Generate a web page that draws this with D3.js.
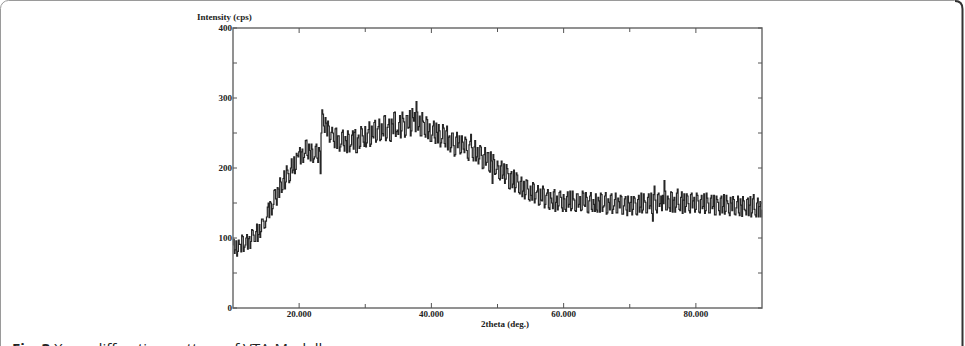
<!DOCTYPE html>
<html>
<head>
<meta charset="utf-8">
<script src="https://cdn.jsdelivr.net/npm/d3@7"></script>
<style>
  body { margin: 0; background: #fff; }
  svg { display: block; }
  .tick-label { font-family: "Liberation Serif", serif; font-weight: bold; font-size: 9px; fill: #222; }
</style>
</head>
<body>
<div id="chart"></div>
<script>
const width = 965
const height = 346
const margins = { top: 28, right: 203, bottom: 38, left: 233 }

// 2theta from 10 to 90 deg, read at 0.25 deg steps
const thetaStart = 10
const thetaStep = 0.25
const intensity = [
    90,78,96,81,91,80,102,87,100,84,102,95,111,95,109,95,119,109,127,114,
    124,144,129,150,142,168,156,172,158,180,169,196,180,197,179,200,193,216,198,218,
    223,206,227,215,239,218,234,210,227,213,231,214,229,192,283,260,272,246,260,241,
    258,238,256,228,246,230,251,232,245,222,248,231,247,227,255,222,247,231,256,237,
    259,236,255,231,260,243,268,240,259,239,263,246,275,243,262,239,270,249,280,252,
    248,275,253,271,244,275,257,282,253,272,279,295,254,274,246,267,248,273,242,263,
    238,260,243,264,236,253,236,262,235,253,226,246,229,250,217,244,229,246,222,237,
    222,241,214,233,248,215,230,210,229,213,230,199,219,204,222,196,223,178,212,192,
    210,185,203,185,206,184,199,171,192,172,197,172,190,165,181,159,181,162,182,155,
    174,154,177,156,167,147,170,153,170,148,164,143,165,150,166,138,160,146,167,143,
    162,141,159,144,167,142,156,139,163,144,159,140,164,145,158,136,160,141,155,138,
    140,158,137,162,144,160,134,156,140,163,141,155,136,157,143,159,134,156,140,160,
    138,159,141,157,134,155,137,164,140,153,136,158,142,164,124,174,140,162,145,160,
    161,182,140,160,143,166,137,158,144,170,141,158,135,163,145,160,139,162,143,158,
    141,161,137,155,142,163,139,157,136,157,142,161,133,155,139,157,136,162,138,153,
    136,158,139,155,133,152,136,156,131,153,139,155,132,159,136,162,133,150,130,152,
    140
]
// readings halfway between the steps above (10.125, 10.375, ...)
const intensityHalf = [
    98,83,74,97,91,104,81,90,105,99,85,112,104,95,120,105,101,127,124,115,
    130,150,152,133,148,169,147,170,186,165,185,170,203,192,182,213,197,192,221,216,
    229,223,208,221,240,213,225,234,208,216,234,208,224,250,277,251,264,267,237,251,
    250,229,257,246,224,234,254,224,239,253,223,233,253,251,222,243,228,259,246,231,
    230,250,266,234,245,265,237,256,270,241,249,274,239,258,270,238,263,279,245,254,
    265,243,280,266,247,275,258,246,285,267,252,280,259,246,279,265,244,269,252,238,
    247,267,235,251,262,230,242,257,230,260,244,223,250,232,219,251,236,220,246,227,
    244,225,211,238,229,210,239,216,206,232,218,200,229,208,222,194,210,219,191,198,
    203,183,210,190,178,205,192,170,195,177,166,193,180,163,187,167,156,183,170,153,
    161,179,150,165,175,148,154,174,143,161,169,141,157,142,169,151,140,165,158,138,
    156,138,166,148,139,167,154,138,163,148,139,167,147,165,137,153,165,138,148,163,
    137,153,164,138,146,165,136,151,161,135,146,164,136,152,161,134,146,159,132,150,
    151,133,159,150,133,161,144,136,163,151,136,163,146,135,162,154,136,164,149,139,
    149,167,140,156,138,165,154,137,164,148,139,166,154,137,163,149,136,164,153,137,
    164,153,136,161,145,135,164,150,136,161,145,133,160,151,133,160,145,134,161,149,
    132,150,159,134,143,160,132,147,159,141,133,157,147,130,156,141,130,157,145,130
]
const xMajor = [20, 40, 60, 80]
const xMinor = [30, 50, 70]
const yMajor = [0, 100, 200, 300, 400]
const yMinor = [50, 150, 250, 350]

const data = []
intensity.forEach((d, i) => {
    data.push({ x: thetaStart + i * thetaStep, y: d })
    if (i < intensityHalf.length) {
        data.push({ x: thetaStart + (i + 0.5) * thetaStep, y: intensityHalf[i] })
    }
})

const svg = d3.select("#chart").append("svg")
    .attr("width", width)
    .attr("height", height)

// page frame
svg.append("rect")
    .attr("x", 0.5).attr("y", 0.5)
    .attr("width", 962).attr("height", 380)
    .attr("rx", 8)
    .style("fill", "none")
    .style("stroke", "#9a9a9a")
svg.append("path")
    .attr("d", "M955,1 Q962.5,1 962.5,9 L962.5,346")
    .style("fill", "none")
    .style("stroke", "#333")
    .style("stroke-width", 2)

const x = d3.scaleLinear().domain([10, 90]).range([margins.left, width - margins.right])
const y = d3.scaleLinear().domain([0, 400]).range([height - margins.bottom, margins.top])

const x0 = x.range()[0], x1 = x.range()[1]
const y0 = y.range()[0], y1 = y.range()[1]

// data trace, drawn as counts per step like the diffractometer output
svg.append("path")
    .datum(data)
    .attr("d", d3.line().curve(d3.curveStep).x(d => x(d.x)).y(d => y(d.y)))
    .style("fill", "none")
    .style("stroke", "#262626")
    .style("stroke-width", 1.2)

// frame of the plot
svg.append("rect")
    .attr("x", x0).attr("y", y1)
    .attr("width", x1 - x0).attr("height", y0 - y1)
    .style("fill", "none")
    .style("stroke", "#6e6e6e")
    .style("stroke-width", 1.5)

const tickColor = "#555"
function hTick(v, len) {
    svg.append("line").attr("x1", x(v)).attr("x2", x(v)).attr("y1", y0).attr("y2", y0 - len).style("stroke", tickColor)
    svg.append("line").attr("x1", x(v)).attr("x2", x(v)).attr("y1", y1).attr("y2", y1 + len).style("stroke", tickColor)
}
function vTick(v, len) {
    svg.append("line").attr("x1", x0).attr("x2", x0 + len).attr("y1", y(v)).attr("y2", y(v)).style("stroke", tickColor)
    svg.append("line").attr("x1", x1).attr("x2", x1 - len).attr("y1", y(v)).attr("y2", y(v)).style("stroke", tickColor)
}
xMajor.forEach(v => hTick(v, 5))
xMinor.forEach(v => hTick(v, 4))
yMajor.forEach(v => vTick(v, 4))
yMinor.forEach(v => vTick(v, 4))

svg.selectAll(".x-label")
    .data(xMajor)
    .enter()
    .append("text")
    .attr("class", "tick-label")
    .attr("x", d => x(d))
    .attr("y", y0 + 9)
    .attr("text-anchor", "middle")
    .text(d => d3.format(".3f")(d))

svg.selectAll(".y-label")
    .data(yMajor)
    .enter()
    .append("text")
    .attr("class", "tick-label")
    .attr("x", x0 - 1)
    .attr("y", d => y(d) + 3)
    .attr("text-anchor", "end")
    .text(d => d)

svg.append("text")
    .attr("class", "tick-label")
    .attr("x", 197)
    .attr("y", 20)
    .text("Intensity (cps)")

svg.append("text")
    .attr("class", "tick-label")
    .attr("x", 505)
    .attr("y", 327)
    .attr("text-anchor", "middle")
    .text("2theta (deg.)")

// figure caption, cut off by the bottom edge as in the source figure
const caption = svg.append("text")
    .attr("x", 12)
    .attr("y", 354)
    .style("font-family", "'Open Sans', sans-serif")
    .style("font-size", "15px")
    .style("fill", "#222")
caption.append("tspan").style("font-weight", "bold").text("Fig. 3")
caption.append("tspan").text(" X-ray diffraction pattern of VTA-Modell")
</script>
</body>
</html>
